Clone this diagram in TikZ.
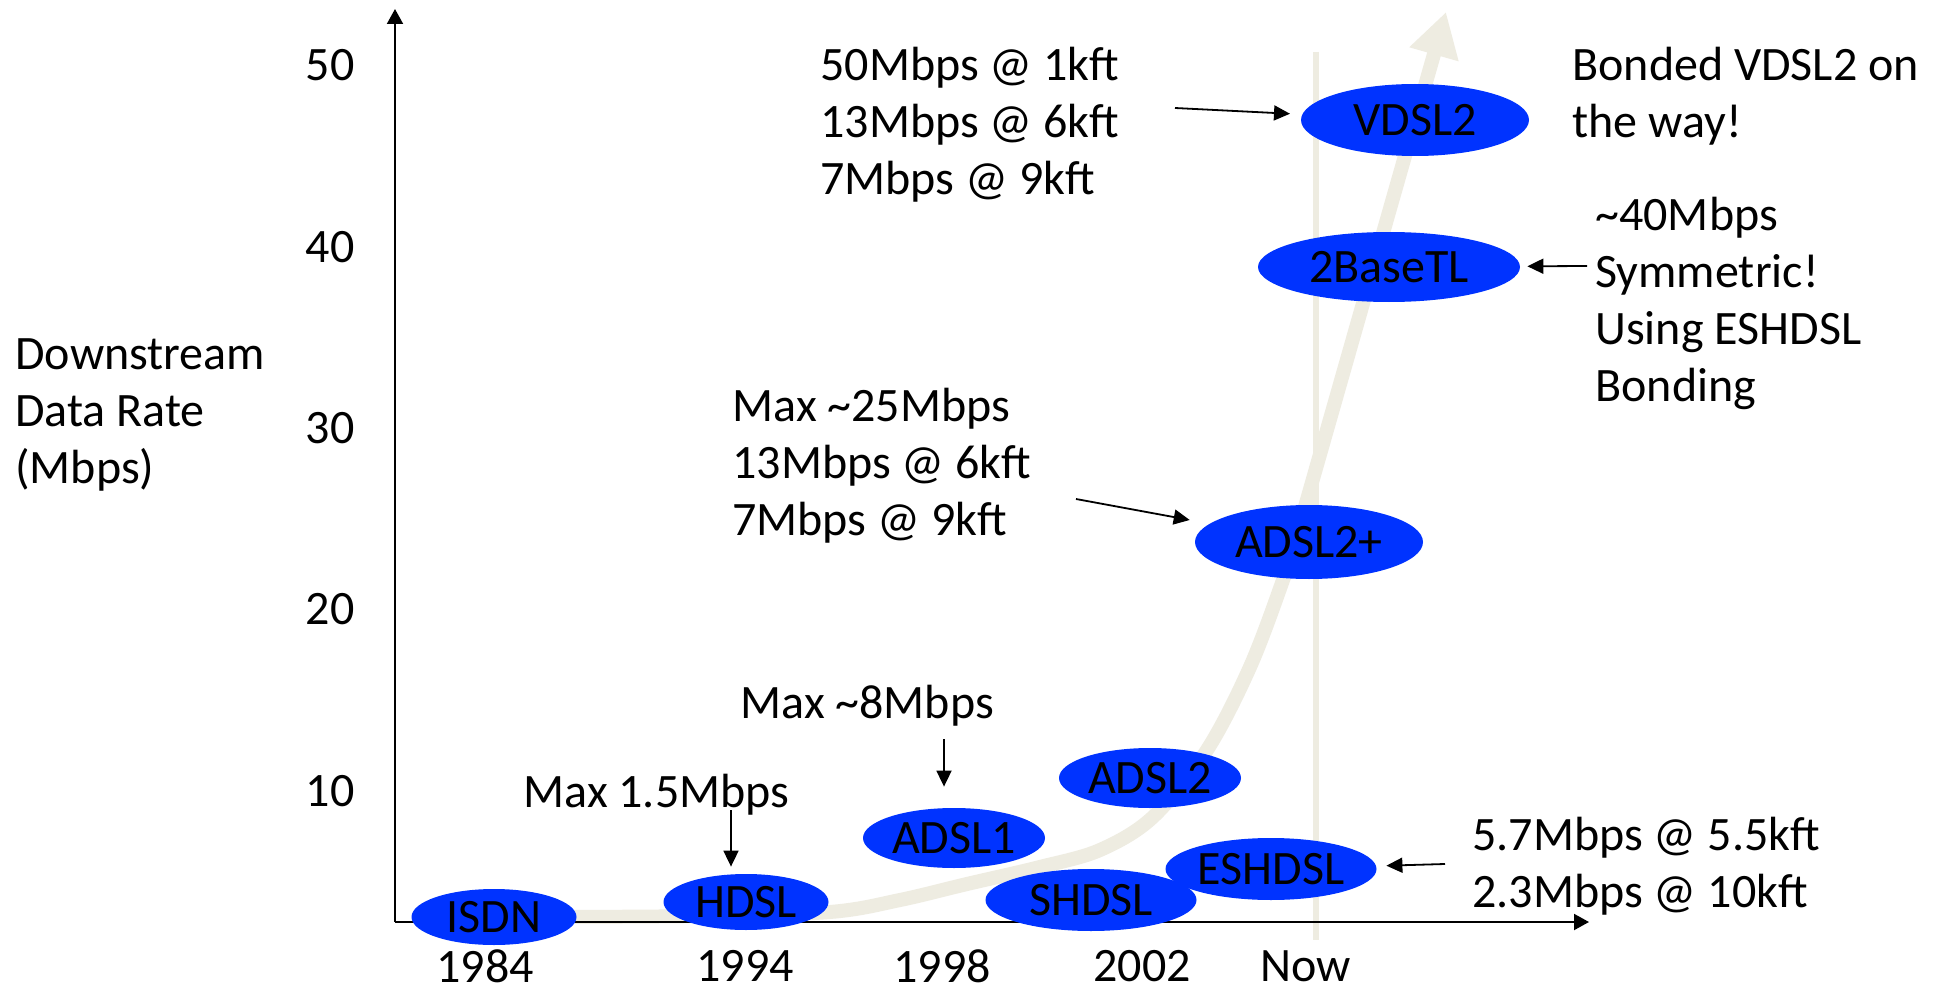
\documentclass[tikz,border=0pt]{standalone}
\usepackage{fontspec}
\setmainfont{Carlito}
\usetikzlibrary{shapes.geometric,arrows.meta}
\definecolor{ovalblue}{RGB}{0,51,255}
\definecolor{trendgray}{RGB}{238,236,225}
\begin{document}
\begin{tikzpicture}[x=0.5pt,y=-0.5pt,
  oval/.style={ellipse,fill=ovalblue,draw=none,inner sep=0pt,font=\fontsize{24}{28.5}\selectfont},
  lbl/.style={inner sep=0pt,font=\fontsize{24}{28.5}\selectfont,align=left,anchor=west},
  tick/.style={inner sep=0pt,font=\fontsize{24}{28.5}\selectfont},
  ptr/.style={-{Triangle[length=8pt,width=7.5pt]},line width=0.9pt},
  axisline/.style={-{Triangle[length=7.5pt,width=8pt]},line width=1pt},
  trendline/.style={draw=trendgray,line width=7pt},
  nowline/.style={draw=trendgray,line width=3pt}]
\useasboundingbox (0,0) rectangle (1940,995);
\fill[white] (0,0) rectangle (1940,995);
% background trend
\draw[nowline] (1316,52) -- (1316,940);
\draw[trendline,line cap=round] plot[smooth,tension=0.55] coordinates {(560,917) (700,916) (830,912) (900,900) (967,884) (1040,867) (1100,850) (1153,817) (1207,750) (1250,667) (1283,580) (1297,535)};
\draw[trendline,-{Triangle[length=22pt,width=24pt]}] (1297,535) -- (1446,12);
% axes
\coordinate (origin) at (395,922);
\coordinate (ytop) at (395,9);
\coordinate (xend) at (1589,922);
\draw[axisline] (origin) -- (ytop);
\draw[axisline] (origin) -- (xend);
% ovals
\node[oval,minimum width=82.5pt,minimum height=28pt] (isdn) at (494,917) {ISDN};
\node[oval,minimum width=82.5pt,minimum height=28pt] (hd) at (746,902) {HDSL};
\node[oval,minimum width=91pt,minimum height=30pt] (a1) at (954,838) {ADSL1};
\node[oval,minimum width=91pt,minimum height=30pt] (a2) at (1150,778) {ADSL2};
\node[oval,minimum width=105.5pt,minimum height=31pt] (sh) at (1091,900) {SHDSL};
\node[oval,minimum width=105.5pt,minimum height=31pt] (es) at (1271,869) {ESHDSL};
\node[oval,minimum width=114pt,minimum height=37pt] (a2p) at (1309,542) {ADSL2+};
\node[oval,minimum width=131pt,minimum height=35pt] (tb) at (1389,267) {2BaseTL};
\node[oval,minimum width=114pt,minimum height=36pt] (vd) at (1415,120) {VDSL2};
% axis labels
\node[lbl] (ylab) at (15,415) {Downstream\\Data Rate\\(Mbps)};
\node[tick,anchor=east] (y50) at (355,65) {50};
\node[tick,anchor=east] (y40) at (355,247) {40};
\node[tick,anchor=east] (y30) at (355,428) {30};
\node[tick,anchor=east] (y20) at (355,609) {20};
\node[tick,anchor=east] (y10) at (355,791) {10};
\node[tick] (x1984) at (485,966) {1984};
\node[tick] (x1994) at (745,966) {1994};
\node[tick] (x1998) at (942,966) {1998};
\node[tick] (x2002) at (1142,966) {2002};
\node[tick] (xnow) at (1306,966) {Now};
% annotations
\node[lbl] (l50) at (820,125) {50Mbps @ 1kft\\13Mbps @ 6kft\\7Mbps @ 9kft};
\node[lbl] (lbond) at (1572,96) {Bonded VDSL2 on\\the way!};
\node[lbl] (l40) at (1595,303) {\textasciitilde40Mbps\\Symmetric!\\Using ESHDSL\\Bonding};
\node[lbl] (l25) at (732,466) {Max \textasciitilde25Mbps\\13Mbps @ 6kft\\7Mbps @ 9kft};
\node[lbl] (l8) at (740,706) {Max \textasciitilde8Mbps};
\node[lbl] (l15) at (523,795) {Max 1.5Mbps};
\node[lbl] (l57) at (1472,866) {5.7Mbps @ 5.5kft\\2.3Mbps @ 10kft};
% pointers
\coordinate (t50) at (1175,108);
\coordinate (t2b) at (1587,266);
\coordinate (t25) at (1076,499);
\coordinate (t8) at (944,739);
\coordinate (t15) at (731,810);
\coordinate (tes) at (1445,864);
\draw[ptr,shorten >=6pt] (t50) -- (vd);
\draw[ptr,shorten >=3.5pt] (t2b) -- (tb);
\draw[ptr,shorten >=10pt] (t25) -- (a2p);
\draw[ptr,shorten >=10.5pt] (t8) -- (t8 |- a1.north);
\draw[ptr,shorten >=3.5pt] (t15) -- (t15 |- hd.north);
\draw[ptr,shorten >=5pt] (tes) -- (es);
\end{tikzpicture}
\end{document}
